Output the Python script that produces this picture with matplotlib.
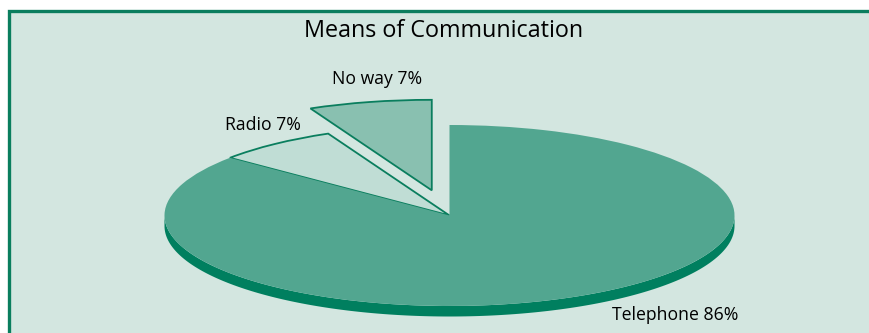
import numpy as np
import matplotlib.pyplot as plt
from matplotlib.patches import Rectangle, Polygon

# survey shares, percent
categories = ['No way', 'Radio', 'Telephone']
shares = [7, 7, 86]
title = 'Means of Communication'

bg = '#d3e6e0'
edge = '#0a7e5e'
colors = ['#89c0b0', '#c0ddd5', '#52a690']
side = '#007f5f'

W, H = 870, 333
fig = plt.figure(figsize=(W / 100, H / 100), dpi=100)
fig.patch.set_facecolor('white')

# full-figure axes in pixel units for the frame and the text
base = fig.add_axes([0, 0, 1, 1])
base.set_xlim(0, W)
base.set_ylim(H, 0)
base.axis('off')
base.add_patch(Rectangle((9, 10.5), W + 20, H + 20, facecolor=bg,
                         edgecolor=edge, linewidth=2.4, zorder=0))

# pie axes: unit circle squashed into an ellipse
cx, cy, rx, ry = 449.5, 215.5, 285, 90.5
ax = fig.add_axes([(cx - rx) / W, (H - cy - ry) / H, 2 * rx / W, 2 * ry / H])
ax.axis('off')

depth = 10.5 / ry
t = np.linspace(np.pi, 2 * np.pi, 200)
band = np.concatenate([np.c_[np.cos(t), np.sin(t)],
                       np.c_[np.cos(t[::-1]), np.sin(t[::-1]) - depth]])
ax.add_patch(Polygon(band, closed=True, facecolor=side, edgecolor='none',
                     zorder=0, clip_on=False))

wedges, _ = ax.pie(shares, colors=colors, startangle=90, counterclock=True,
                   explode=[0.285, 0, 0], radius=1,
                   wedgeprops=dict(linewidth=1.3, edgecolor=edge))
wedges[2].set_edgecolor('none')
for w in wedges:
    w.set_clip_on(False)
ax.set_aspect('auto')
ax.set_xlim(-1, 1)
ax.set_ylim(-1, 1)

font = 'Open Sans'
base.text(444, 31, title, ha='center', va='center', fontsize=16.8,
          family=font, color='black')
label_pos = [(377, 79), (263, 125), (675, 315)]
for name, val, (x, y) in zip(categories, shares, label_pos):
    base.text(x, y, f'{name} {val}%', ha='center', va='center',
              fontsize=12.7, family=font, color='black')

fig.savefig('out.png', dpi=100, facecolor='white')
